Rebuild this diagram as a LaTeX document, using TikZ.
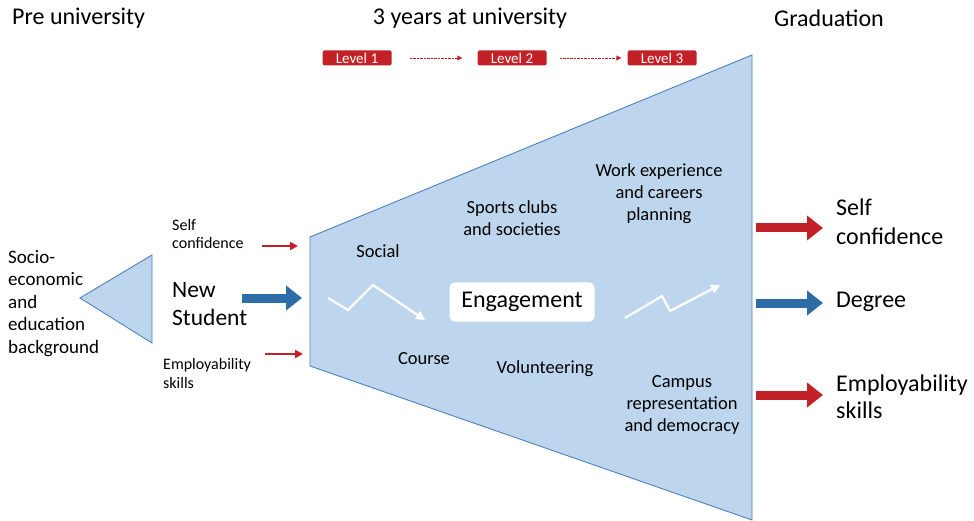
\documentclass[tikz,border=0pt]{standalone}
\usepackage{fontspec}
\setmainfont{Carlito}
\usetikzlibrary{arrows.meta}
\definecolor{funnel}{RGB}{190,214,237}
\definecolor{funneledge}{RGB}{79,129,189}
\definecolor{darkred}{RGB}{195,32,40}
\definecolor{darkblue}{RGB}{46,108,165}

\begin{document}
\begin{tikzpicture}[x=1pt, y=-1pt,
  txt/.style={inner sep=0pt, align=left},
  ctxt/.style={inner sep=0pt, align=center, font=\fontsize{18.5}{22}\selectfont},
  levelbox/.style={fill=darkred, text=white, rounded corners=1.5pt, minimum width=69pt, minimum height=15pt, inner sep=0pt, font=\fontsize{15}{15}\selectfont},
  smallred/.style={-{Triangle[length=8pt, width=8pt]}, darkred, line width=2.2pt},
  bigarrow/.style={-{Triangle[length=16pt, width=24pt]}, line width=9pt}]
\useasboundingbox (0, 0) rectangle (974, 521);

% headings
\node[txt, anchor=west, font=\fontsize{24}{28}\selectfont] (pre) at (12, 18) {Pre university};
\node[txt, font=\fontsize{24}{28}\selectfont] (years) at (470, 18) {3 years at university};
\node[txt, font=\fontsize{24}{28}\selectfont] (grad) at (829, 18) {Graduation};

% levels
\node[levelbox] (l1) at (357, 58) {Level 1};
\node[levelbox] (l2) at (512, 58) {Level 2};
\node[levelbox] (l3) at (662, 58) {Level 3};
\draw[darkred, densely dotted, -{Triangle[length=5pt, width=5pt]}] ([xshift=18pt]l1.east) -- ([xshift=-15pt]l2.west);
\draw[darkred, densely dotted, -{Triangle[length=5pt, width=5pt]}] ([xshift=13pt]l2.east) -- ([xshift=-6pt]l3.west);

% funnels
\draw[funneledge, fill=funnel, line width=0.9pt] (80, 298) -- (152, 255) -- (152, 343) -- cycle;
\draw[funneledge, fill=funnel, line width=0.9pt] (310, 237) -- (752, 55) -- (752, 520) -- (310, 366) -- cycle;

% before university
\node[txt, anchor=north west, font=\fontsize{19}{22.5}\selectfont] (socio) at (8, 250) {Socio-\\economic\\and\\education\\background};
\node[txt, anchor=west, font=\fontsize{16}{18}\selectfont] (selfin) at (172, 234) {Self\\confidence};
\node[txt, anchor=west, font=\fontsize{23.5}{28}\selectfont] (student) at (172, 304) {New\\Student};
\node[txt, anchor=west, font=\fontsize{16}{19}\selectfont] (employin) at (163, 374) {Employability\\skills};
\coordinate (selfa) at (262, 246);
\coordinate (selfb) at (298, 246);
\coordinate (studa) at (242, 298);
\coordinate (studb) at (302, 298);
\coordinate (empla) at (265, 354);
\coordinate (emplb) at (303, 354);
\draw[smallred] (selfa) -- (selfb);
\draw[bigarrow, darkblue] (studa) -- (studb);
\draw[smallred] (empla) -- (emplb);

% inside the funnel
\node[ctxt] (social) at (378, 251) {Social};
\node[ctxt] (sports) at (512, 218) {Sports clubs\\and societies};
\node[ctxt] (work) at (659, 194) {Work experience\\and careers\\planning};
\node[ctxt] (course) at (424, 359) {Course};
\node[ctxt] (volunteer) at (545, 369) {Volunteering};
\node[ctxt] (campus) at (682, 405) {Campus\\representation\\and democracy};
\node[fill=white, rounded corners=5pt, minimum width=145pt, minimum height=39pt, inner sep=0pt, font=\fontsize{24}{24}\selectfont] (engage) at (522, 302) {Engagement};
\draw[white, line width=2.2pt, -{Triangle[length=9pt, width=9pt]}] (328, 298) -- (348, 310) -- (373, 285) -- (425, 320);
\draw[white, line width=2.2pt, -{Triangle[length=9pt, width=9pt]}] (625, 318) -- (662, 296) -- (670, 311) -- (720, 285);

% after graduation
\coordinate (outa) at (756, 228);
\coordinate (outb) at (823, 228);
\coordinate (degra) at (756, 303);
\coordinate (degrb) at (823, 303);
\coordinate (skilla) at (756, 395);
\coordinate (skillb) at (823, 395);
\draw[bigarrow, darkred] (outa) -- (outb);
\draw[bigarrow, darkblue] (degra) -- (degrb);
\draw[bigarrow, darkred] (skilla) -- (skillb);
\node[txt, anchor=west, font=\fontsize{24}{29}\selectfont] (selfout) at (836, 222) {Self\\confidence};
\node[txt, anchor=west, font=\fontsize{24}{28}\selectfont] (degree) at (836, 302) {Degree};
\node[txt, anchor=west, font=\fontsize{24}{27}\selectfont] (skillout) at (836, 397) {Employability\\skills};
\end{tikzpicture}
\end{document}
